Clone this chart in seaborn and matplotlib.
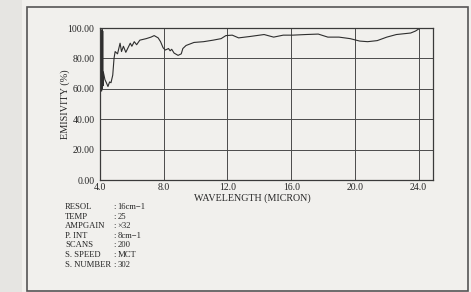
"""Emissivity spectrum (FT-IR printout) recreated with seaborn."""

import matplotlib
matplotlib.use("Agg")
import matplotlib.pyplot as plt
import pandas as pd
import seaborn as sns
from matplotlib.patches import Rectangle

# wavelength (micron) and emissivity (%)
wavelength = [3.96, 4.04, 4.10, 4.13, 4.15, 4.17, 4.19, 4.21, 4.31, 4.40,
              4.50, 4.60, 4.69, 4.80, 4.88, 4.95, 5.10, 5.26, 5.35, 5.47,
              5.62, 5.75, 5.90, 6.00, 6.15, 6.30, 6.50, 6.90, 7.20, 7.40,
              7.65, 7.80, 7.96, 8.10, 8.30, 8.40, 8.50, 8.65, 8.90, 9.10,
              9.20, 9.40, 9.90, 10.5, 11.1, 11.6, 11.9, 12.3, 12.7, 13.4,
              14.3, 14.9, 15.5, 16.1, 16.9, 17.7, 18.3, 19.0, 19.7, 20.3,
              20.8, 21.4, 22.0, 22.6, 23.5, 23.8, 24.1, 24.3]
emissivity = [77.0, 70.5, 58.5, 99.0, 60.0, 98.0, 62.0, 71.0, 66.0, 64.0,
              61.5, 64.5, 64.0, 69.0, 80.0, 84.5, 83.0, 90.0, 84.5, 88.0,
              84.0, 86.8, 90.0, 88.0, 91.0, 89.0, 92.0, 93.0, 94.0, 95.0,
              93.5, 91.0, 87.0, 85.5, 86.5, 85.0, 86.0, 83.5, 82.0, 83.0,
              86.5, 88.5, 90.5, 91.0, 92.0, 93.0, 95.0, 95.3, 93.5, 94.4,
              95.7, 94.0, 95.3, 95.3, 95.7, 96.0, 94.0, 94.0, 93.0, 91.4,
              91.0, 91.7, 94.0, 95.7, 96.7, 98.0, 100.0, 101.0]

x_ticks = [4.0, 8.0, 12.0, 16.0, 20.0, 24.0]
y_ticks = [0, 20, 40, 60, 80, 100]

param_names = ["RESOL", "TEMP", "AMPGAIN", "P. INT", "SCANS", "S. SPEED", "S. NUMBER"]
param_values = ["16cm\u22121", "25", "\u00d732", "8cm\u22121", "200", "MCT", "302"]

paper = "#f1f0ed"
ink = "#262626"

sns.set_style("white")
plt.rcParams["font.family"] = ["Liberation Serif", "DejaVu Serif"]

fig = plt.figure(figsize=(4.71, 2.92), dpi=100, facecolor=paper)

# scanned page edge and printed frame
fig.patches.append(Rectangle((0, 0), 22 / 471, 1, transform=fig.transFigure,
                             facecolor="#e6e5e2", edgecolor="none", zorder=0))
fig.patches.append(Rectangle((27 / 471, 1 / 292), 441 / 471, 284 / 292,
                             transform=fig.transFigure, facecolor="none",
                             edgecolor="#555555", linewidth=1.2, zorder=1))

ax = fig.add_axes([100 / 471, 112 / 292, 333 / 471, 152 / 292])
ax.set_facecolor(paper)

df = pd.DataFrame({"wavelength": wavelength, "emissivity": emissivity})
sns.lineplot(data=df, x="wavelength", y="emissivity", sort=False, estimator=None,
             color="#2e2e2e", linewidth=0.8, ax=ax)

ax.set_xlim(4.0, 24.9)
ax.set_ylim(0, 100)
ax.set_xticks(x_ticks)
ax.set_xticklabels([f"{t:.1f}" for t in x_ticks])
ax.set_yticks(y_ticks)
ax.set_yticklabels([f"{t:.2f}" for t in y_ticks])
ax.set_xticks([6, 10, 14, 18, 22], minor=True)
ax.set_yticks([10, 30, 50, 70, 90], minor=True)
ax.tick_params(axis="both", which="major", labelsize=7, colors=ink,
               width=0.7, pad=1)
ax.tick_params(axis="x", which="major", length=1.5, pad=0.5)
ax.tick_params(axis="y", which="major", length=3)
ax.tick_params(axis="both", which="minor", length=2, width=0.6, color=ink)
ax.grid(True, which="major", color="#4a4a4a", linewidth=0.7)
for s in ax.spines.values():
    s.set_color("#3a3a3a")
    s.set_linewidth(0.9)

ax.set_xlabel("WAVELENGTH (MICRON)", fontsize=7.2, color=ink)
ax.xaxis.set_label_coords((252 - 100) / 333, -(198.5 - 180) / 152, transform=ax.transAxes)
ax.xaxis.label.set_va("center")
ax.set_ylabel("EMISIVITY (%)", fontsize=7.4, color=ink)
ax.yaxis.set_label_coords(-(100 - 65) / 333, 0.5, transform=ax.transAxes)
ax.yaxis.label.set_va("center")

# measurement parameters printed under the chart
top = 1 - 207 / 292
step = 9.6 / 292
for i, (name, val) in enumerate(zip(param_names, param_values)):
    y = top - i * step
    fig.text(65 / 471, y, name, fontsize=6.2, color=ink, va="center")
    fig.text(113 / 471, y, ":", fontsize=6.2, color=ink, va="center")
    fig.text(117.5 / 471, y, val, fontsize=6.2, color=ink, va="center")

fig.savefig("out.png", dpi=100, facecolor=paper)
